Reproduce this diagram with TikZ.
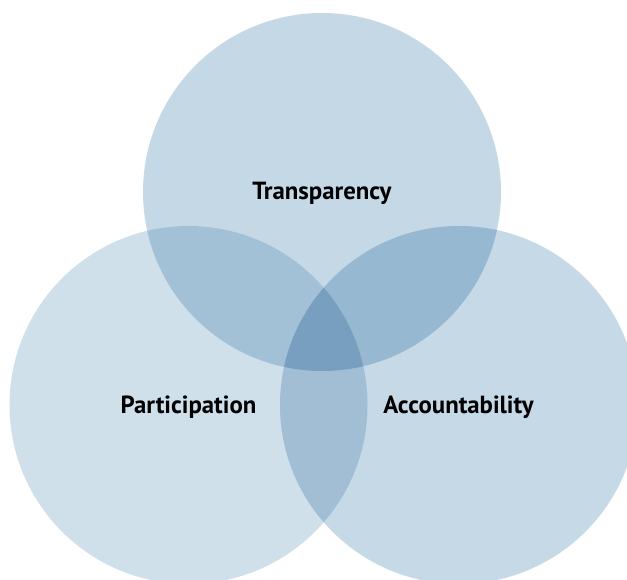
\documentclass[tikz,border=0pt]{standalone}
\usepackage{fontspec}
\setmainfont{PT Sans}
\definecolor{ctop}{HTML}{C5D8E6}
\definecolor{cright}{HTML}{C5D9E7}
\definecolor{cleft}{HTML}{D0E0EB}
\definecolor{ctl}{HTML}{A3C1D6}
\definecolor{ctr}{HTML}{96B8D0}
\definecolor{clr}{HTML}{A1BED5}
\definecolor{call}{HTML}{789FBF}
\begin{document}
\begin{tikzpicture}[x=1pt,y=-1pt,
  lbl/.style={font=\bfseries\fontsize{24.8}{27}\selectfont, text=black, inner sep=0pt}]
\useasboundingbox (0,0) rectangle (627,580);
\clip (0,0) rectangle (627,580);
\coordinate (T) at (322,192);
\coordinate (L) at (188.5,405);
\coordinate (R) at (459,405);
\fill[ctop] (T) circle[radius=179pt];
\fill[cleft] (L) circle[radius=179pt];
\fill[cright] (R) circle[radius=179pt];
\begin{scope}
  \clip (T) circle[radius=179pt];
  \fill[ctl] (L) circle[radius=179pt];
  \fill[ctr] (R) circle[radius=179pt];
\end{scope}
\begin{scope}
  \clip (L) circle[radius=179pt];
  \fill[clr] (R) circle[radius=179pt];
\end{scope}
\begin{scope}
  \clip (T) circle[radius=179pt];
  \clip (L) circle[radius=179pt];
  \fill[call] (R) circle[radius=179pt];
\end{scope}
\node[lbl] (tr) at (322,193) {Transparency};
\node[lbl] (pa) at (188.5,407) {Participation};
\node[lbl] (ac) at (458.5,407) {Accountability};
\end{tikzpicture}
\end{document}
